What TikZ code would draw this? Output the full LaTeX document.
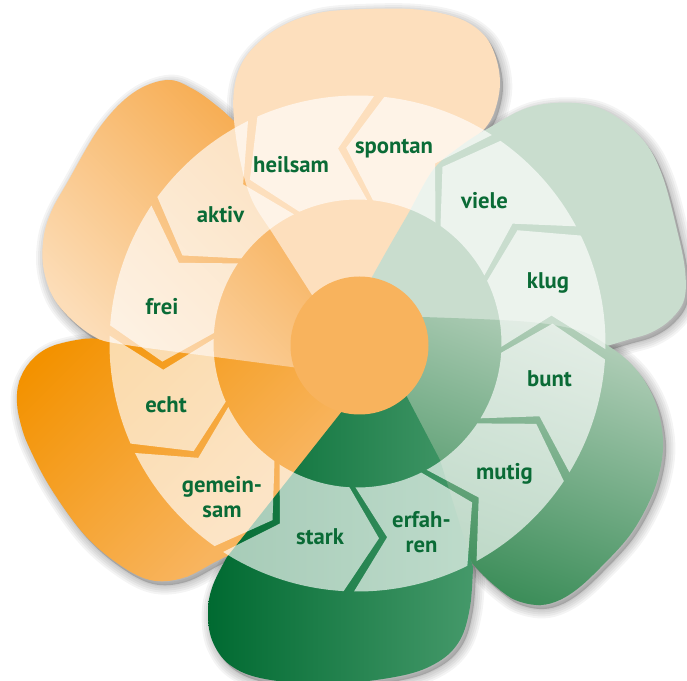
\documentclass[tikz,border=0pt]{standalone}
\usepackage{fontspec}
\setmainfont{PT Sans}
\usetikzlibrary{calc}
\definecolor{cPeach}{HTML}{FDDFBD}
\definecolor{cPale}{HTML}{C9DDCE}
\definecolor{cText}{HTML}{0A6B36}
\definecolor{cCenter}{HTML}{F8B35D}
\definecolor{ulDark}{HTML}{F7AE55}
\definecolor{ulLight}{HTML}{FCDDB8}
\definecolor{llDark}{HTML}{F39200}
\definecolor{llLight}{HTML}{F8B45E}
\definecolor{lrLight}{HTML}{B1CEB8}
\definecolor{lrDark}{HTML}{3D8E5A}
\definecolor{bLeft}{HTML}{006A31}
\definecolor{bMid}{HTML}{0C8244}
\definecolor{bRight}{HTML}{45996A}

% petal outlines (pixel coordinates, y downwards)
\newcommand\pathT{(345,345) -- plot[smooth,tension=0.6] coordinates {(312,295) (275,237) (252,200) (240,160) (234,120) (234,90) (241,65) (256,45) (280,27) (310,15) (344,10) (410,9) (455,17) (482,33) (495,55) (500,83) (495,110) (486,127) (472,140)} -- (395,290) -- cycle}
\newcommand\pathR{(362,322) -- plot[smooth,tension=0.6] coordinates {(372,277) (390,245) (408,214) (433,170) (458,148) (487,129) (530,107) (576,103) (610,113) (643,140) (662,175) (677,230) (685,270) (684,300) (670,320) (650,333) (627,340) (607,346)} -- (540,338) -- (430,332) -- cycle}
\newcommand\pathLR{(365,317) -- plot[smooth,tension=0.6] coordinates {(422,317) (500,320) (547,324) (583,332) (607,345) (627,360) (644,380) (657,407) (663,440) (660,470) (650,500) (630,535) (600,568) (576,590) (555,602) (536,605) (515,600) (500,590) (485,577) (472,563)} -- (428,470) -- cycle}
\newcommand\pathB{(385,356) -- (343,410) -- plot[smooth,tension=0.6] coordinates {(227,557) (213,585) (208,610) (212,640) (230,665) (265,679) (330,684) (400,676) (438,662) (460,640) (470,607) (473,567)} -- (440,460) -- (407,397) -- cycle}
\newcommand\pathLL{(385,350) -- (200,333) -- plot[smooth,tension=0.6] coordinates {(130,337) (110,339) (83,339) (50,347) (30,362) (19,382) (17,403) (21,425) (29,447) (50,487) (83,533) (117,563) (150,580) (183,578) (217,561) (238,551)} -- (349,412) -- cycle}
\newcommand\pathUL{(360,376) -- plot[smooth,tension=0.6] coordinates {(200,355) (120,344) (95,337) (70,318) (52,295) (43,265) (44,235) (52,210) (67,183) (100,127) (133,93) (167,80) (193,89) (217,106) (238,125)} -- (290,230) -- (345,330) -- cycle}

\newcommand\petalshadow[1]{%
  \begin{scope}[shift={(3,4)}]
    \foreach \w in {14,11,8,5,2}{\draw[black,opacity=0.045,line width=\w pt,line join=round] #1;}
    \fill[black,opacity=0.18] #1;
  \end{scope}}

\def\sRin{144}\def\sRout{248}\def\sRmid{196}\def\sGap{1.2}\def\sOff{9.5}
\newcommand\ringseg[2]{%
  \fill[segfill] ({#1+\sGap}:\sRout) arc[start angle={#1+\sGap}, end angle={#2-\sGap}, radius=\sRout]
    -- ({#2-\sGap+\sOff}:\sRmid) -- ({#2-\sGap}:\sRin)
    arc[start angle={#2-\sGap}, end angle={#1+\sGap}, radius=\sRin]
    -- ({#1+\sGap+\sOff}:\sRmid) -- cycle;}

\begin{document}
\begin{tikzpicture}[x=0.75pt,y=-0.75pt,
  segfill/.style={fill=white,fill opacity=0.65},
  lbl/.style={text=cText,font=\bfseries\fontsize{17}{18.8}\selectfont,inner sep=0pt,align=center}]
\useasboundingbox (0,0) rectangle (687,681);
\fill[white] (0,0) rectangle (687,681);

% shadows
\petalshadow{\pathLL}
\petalshadow{\pathUL}
\petalshadow{\pathT}
\petalshadow{\pathR}
\petalshadow{\pathLR}
\petalshadow{\pathB}

% left-lower petal
\begin{scope}
  \clip \pathLL;
  \begin{scope}[transform canvas={rotate around={45:(200,460)}}]
    \fill[llDark] (-200,0) rectangle (600,277);
    \fill[llLight] (-200,533) rectangle (600,900);
    \shade[top color=llDark,bottom color=llLight] (-200,276) rectangle (600,534);
  \end{scope}
\end{scope}
% upper-left petal
\begin{scope}
  \clip \pathUL;
  \begin{scope}[transform canvas={rotate around={-45:(200,230)}}]
    \fill[ulDark] (-200,-200) rectangle (600,130);
    \fill[ulLight] (-200,378) rectangle (600,700);
    \shade[top color=ulDark,bottom color=ulLight] (-200,129) rectangle (600,379);
  \end{scope}
\end{scope}
% top petal
\fill[cPeach] \pathT;
% right petal
\fill[cPale] \pathR;
% lower-right petal
\begin{scope}
  \clip \pathLR;
  \begin{scope}[transform canvas={rotate around={-20:(520,460)}}]
    \fill[lrLight] (100,0) rectangle (900,319);
    \fill[lrDark] (100,589) rectangle (900,900);
    \shade[top color=lrLight,bottom color=lrDark] (100,318) rectangle (900,590);
  \end{scope}
\end{scope}
% bottom petal
\begin{scope}
  \clip \pathB;
  \shade[left color=bLeft,middle color=bMid,right color=bRight] (208,340) rectangle (473,690);
\end{scope}

% ring of arrow segments
\begin{scope}[shift={(357.5,343.5)},yscale=-1]
  \ringseg{56}{85}
  \ringseg{85}{115}
  \ringseg{115}{145}
  \ringseg{145}{177}
  \ringseg{177}{205}
  \ringseg{205}{236}
  \ringseg{236}{268}
  \ringseg{268}{297.5}
  \ringseg{297.5}{327.5}
  \ringseg{327.5}{357.5}
  \ringseg{357.5}{387}
  \ringseg{27}{56}
\end{scope}

% centre
\fill[cCenter] (359.5,345.5) circle[radius=69];

% labels
\node[lbl,anchor=base] (heilsam) at (291,173) {heilsam};
\node[lbl,anchor=base] (spontan) at (394,154) {spontan};
\node[lbl,anchor=base] (viele) at (484.5,209) {viele};
\node[lbl,anchor=base] (klug) at (548,289) {klug};
\node[lbl,anchor=base] (bunt) at (549.5,387) {bunt};
\node[lbl,anchor=base] (mutig) at (504.5,480) {mutig};
\node[lbl] (erfahren) at (421.5,532) {erfah-\\ren};
\node[lbl,anchor=base] (stark) at (320,545) {stark};
\node[lbl] (gemeinsam) at (222,497) {gemein-\\sam};
\node[lbl,anchor=base] (echt) at (166,413) {echt};
\node[lbl,anchor=base] (frei) at (162,315) {frei};
\node[lbl,anchor=base] (aktiv) at (220.5,223) {aktiv};
\end{tikzpicture}
\end{document}
